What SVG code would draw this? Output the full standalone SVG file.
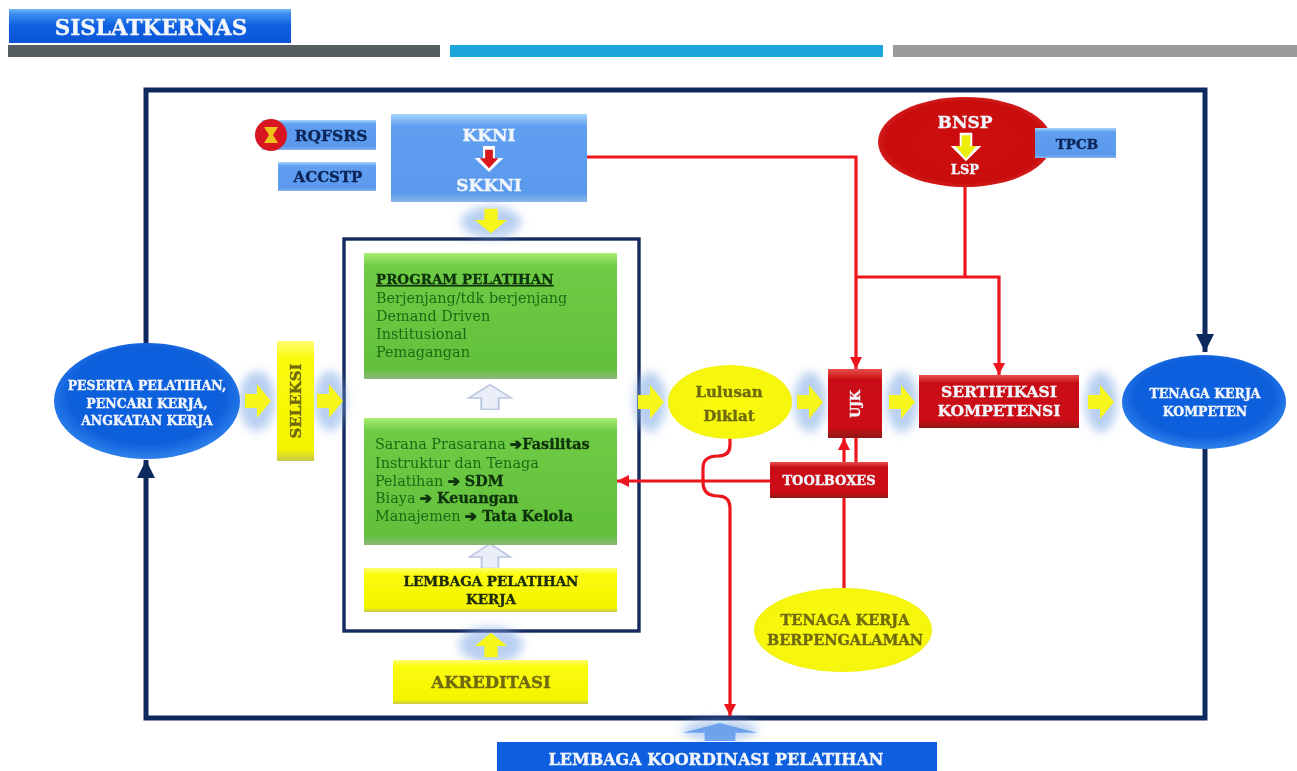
<svg xmlns="http://www.w3.org/2000/svg" width="1297" height="771" viewBox="0 0 1297 771">
<style>
text{font-family:"DejaVu Serif","Liberation Serif",serif;font-weight:bold;text-anchor:middle}
.w{fill:#f2f6fc;stroke:#f2f6fc;stroke-width:.35}
.n{fill:#0b2558;stroke:#0b2558;stroke-width:.35}
.g{fill:#1f6a14;font-weight:normal;text-anchor:start;font-size:14.4px}
.gb{fill:#0c3208;font-weight:bold;stroke:#0c3208;stroke-width:.3}
.y{fill:#6f6a10;stroke:#6f6a10;stroke-width:.35}
.k{fill:#1e2a08;stroke:#1e2a08;stroke-width:.35}
.navy{fill:none;stroke:#10295f;stroke-width:5}
.red{fill:none;stroke:#ec141c;stroke-width:3.2}
.box{fill:none;stroke:#14295f;stroke-width:3.4}
.ya{fill:#f6f61c}
.wa{fill:#e9eef8;stroke:#b9c5df;stroke-width:1.5}
.glow{fill:#7fa9e6;opacity:.55;filter:url(#bl)}
</style>
<defs>
<filter id="soft" x="-2%" y="-2%" width="104%" height="104%"><feGaussianBlur stdDeviation="0.7"/></filter>
<filter id="bl" x="-50%" y="-50%" width="200%" height="200%"><feGaussianBlur stdDeviation="5"/></filter>
<linearGradient id="gb" x1="0" y1="0" x2="0" y2="1"><stop offset="0" stop-color="#6fb9f8"/><stop offset=".14" stop-color="#3d8cf0"/><stop offset=".5" stop-color="#0d5fe0"/><stop offset="1" stop-color="#0a56d6"/></linearGradient>
<linearGradient id="lb" x1="0" y1="0" x2="0" y2="1"><stop offset="0" stop-color="#a6d4fb"/><stop offset=".14" stop-color="#5f9ff0"/><stop offset=".9" stop-color="#5a99ec"/><stop offset="1" stop-color="#8bb4ea"/></linearGradient>
<linearGradient id="gr" x1="0" y1="0" x2="0" y2="1"><stop offset="0" stop-color="#a9ee72"/><stop offset=".1" stop-color="#6fcb45"/><stop offset=".92" stop-color="#62c03c"/><stop offset="1" stop-color="#8ab87a"/></linearGradient>
<linearGradient id="ye" x1="0" y1="0" x2="0" y2="1"><stop offset="0" stop-color="#ffff70"/><stop offset=".15" stop-color="#fbfb0a"/><stop offset=".9" stop-color="#f4f402"/><stop offset="1" stop-color="#c9c94a"/></linearGradient>
<linearGradient id="rd" x1="0" y1="0" x2="0" y2="1"><stop offset="0" stop-color="#e85050"/><stop offset=".15" stop-color="#c90f12"/><stop offset=".85" stop-color="#cb1014"/><stop offset="1" stop-color="#8f1416"/></linearGradient>
<radialGradient id="ebl" cx=".5" cy=".45" r=".6"><stop offset="0" stop-color="#0f62de"/><stop offset=".7" stop-color="#0f5fdc"/><stop offset="1" stop-color="#3a8ef0"/></radialGradient>
<radialGradient id="erd" cx=".5" cy=".5" r=".6"><stop offset="0" stop-color="#cc0a0a"/><stop offset=".75" stop-color="#c90c0c"/><stop offset="1" stop-color="#e24040"/></radialGradient>
<radialGradient id="eye" cx=".5" cy=".5" r=".6"><stop offset="0" stop-color="#fbfb08"/><stop offset=".8" stop-color="#f6f608"/><stop offset="1" stop-color="#d5d530"/></radialGradient>
<path id="arr" d="M-13,-7 H-1 V-17 L13,0 L-1,17 V7 H-13 Z"/>
<marker id="mn" markerUnits="userSpaceOnUse" markerWidth="20" markerHeight="20" refX="18" refY="9" orient="auto"><path d="M0,0 L18,9 L0,18 Z" fill="#10295f"/></marker>
<marker id="mr" markerUnits="userSpaceOnUse" markerWidth="14" markerHeight="14" refX="12" refY="6" orient="auto"><path d="M0,0 L12,6 L0,12 Z" fill="#ec141c"/></marker>
</defs>
<rect width="1297" height="771" fill="#fff"/>
<g filter="url(#soft)">
<g id="header">
<rect x="9" y="9" width="282" height="34" fill="url(#gb)"/>
<text class="w" x="151" y="35" font-size="21.5">SISLATKERNAS</text>
<rect x="8" y="45" width="432" height="12" fill="#555d60"/>
<rect x="450" y="45" width="433" height="12" fill="#1ca5dc"/>
<rect x="893" y="45" width="404" height="12" fill="#999b9c"/>
</g>
<g id="lembaga-frame"><rect class="box" x="344" y="239" width="295" height="392"/></g>
<g id="connectors">
<path class="navy" d="M146,345 V90 H1205 V352" marker-end="url(#mn)"/>
<path class="navy" d="M1205,448 V718 H146 V460" marker-end="url(#mn)"/>
<path class="red" d="M587,157 H856 V369" marker-end="url(#mr)"/>
<path class="red" d="M965,187 V277"/>
<path class="red" d="M856,277 H999 V375" marker-end="url(#mr)"/>
<path class="red" d="M730,438 V445 Q730,456 718,456 Q703,456 703,468 V482 Q703,496 718,496 Q730,496 730,508 V716" marker-end="url(#mr)"/>
<path class="red" d="M770,481 H617" marker-end="url(#mr)"/>
<path class="red" d="M844,590 V498 M844,462 V438" marker-end="url(#mr)"/>
<path class="red" d="M856,462 V438"/>
<ellipse class="glow" cx="257" cy="401" rx="18" ry="30"/>
<use class="ya" href="#arr" transform="translate(258,401)"/>
<ellipse class="glow" cx="330" cy="401" rx="16" ry="30"/>
<use class="ya" href="#arr" transform="translate(330,401)"/>
<ellipse class="glow" cx="491" cy="222" rx="30" ry="16"/>
<use class="ya" href="#arr" transform="translate(491,221) rotate(90) scale(.95)"/>
<ellipse class="glow" cx="650" cy="402" rx="16" ry="30"/>
<use class="ya" href="#arr" transform="translate(651,402)"/>
<ellipse class="glow" cx="810" cy="402" rx="16" ry="30"/>
<use class="ya" href="#arr" transform="translate(810,402)"/>
<ellipse class="glow" cx="902" cy="402" rx="16" ry="30"/>
<use class="ya" href="#arr" transform="translate(902,402)"/>
<ellipse class="glow" cx="1101" cy="402" rx="16" ry="30"/>
<use class="ya" href="#arr" transform="translate(1101,402)"/>
<use class="wa" href="#arr" transform="translate(490,397) rotate(-90) scale(.95,1.25)"/>
<use class="wa" href="#arr" transform="translate(490,556) rotate(-90) scale(.95,1.2)"/>
<ellipse class="glow" cx="491" cy="645" rx="32" ry="18"/>
<use class="ya" href="#arr" transform="translate(491,645) rotate(-90) scale(.95)"/>
<ellipse class="glow" cx="720" cy="730" rx="38" ry="10"/>
<use fill="#5a96ea" opacity=".8" href="#arr" transform="translate(720,732) rotate(-90) scale(.7,2.2)"/>
</g>
<g id="rqfsrs">
<rect x="262" y="120" width="114" height="30" fill="url(#lb)"/>
<circle cx="271" cy="135" r="16" fill="#d81620"/>
<path d="M264,127 H278 L273,135 L278,143 H264 L269,135 Z" fill="#f2c21e"/>
<text class="n" x="331" y="141" font-size="15.5">RQFSRS</text>
</g>
<g id="accstp">
<rect x="278" y="162" width="98" height="29" fill="url(#lb)"/>
<text class="n" x="328" y="182" font-size="15">ACCSTP</text>
</g>
<g id="kkni">
<rect x="391" y="114" width="196" height="88" fill="url(#lb)"/>
<text class="w" x="489" y="141" font-size="17">KKNI</text>
<use href="#arr" fill="#fff" transform="translate(489,159) rotate(90) scale(1,.85)"/>
<use href="#arr" fill="#d8121a" transform="translate(489,159) rotate(90) scale(.72,.55)"/>
<text class="w" x="489" y="191" font-size="17">SKKNI</text>
</g>
<g id="bnsp">
<ellipse cx="965" cy="142" rx="87" ry="45" fill="url(#erd)"/>
<text class="w" x="965" y="128" font-size="17">BNSP</text>
<use href="#arr" fill="#fff" transform="translate(966,147) rotate(90) scale(1.1,.9)"/>
<use href="#arr" fill="#eeee10" transform="translate(966,147) rotate(90) scale(.9,.62)"/>
<text class="w" x="965" y="174" font-size="13">LSP</text>
</g>
<g id="tpcb">
<rect x="1035" y="128" width="81" height="30" fill="url(#lb)"/>
<text class="n" x="1077" y="149" font-size="13.5">TPCB</text>
</g>
<g id="peserta">
<ellipse cx="147" cy="401" rx="93" ry="58" fill="url(#ebl)"/>
<text class="w" font-size="12.5"><tspan x="147" y="390">PESERTA PELATIHAN,</tspan><tspan x="147" y="408">PENCARI KERJA,</tspan><tspan x="147" y="425">ANGKATAN KERJA</tspan></text>
</g>
<g id="seleksi">
<rect x="277" y="341" width="37" height="120" fill="url(#ye)"/>
<text class="y" font-size="15" transform="translate(301,401) rotate(-90)">SELEKSI</text>
</g>
<g id="program">
<rect x="364" y="253" width="253" height="126" fill="url(#gr)"/>
<text class="gb" style="text-anchor:start;text-decoration:underline" x="376" y="284" font-size="13.5">PROGRAM PELATIHAN</text>
<text class="g"><tspan x="376" y="303">Berjenjang/tdk berjenjang</tspan><tspan x="376" y="321">Demand Driven</tspan><tspan x="376" y="339">Institusional</tspan><tspan x="376" y="357">Pemagangan</tspan></text>
</g>
<g id="sarana">
<rect x="364" y="418" width="253" height="127" fill="url(#gr)"/>
<text class="g"><tspan x="375" y="449">Sarana Prasarana </tspan><tspan class="gb">➔Fasilitas</tspan><tspan x="375" y="468">Instruktur dan Tenaga</tspan><tspan x="375" y="486">Pelatihan </tspan><tspan class="gb">➔ SDM</tspan><tspan x="375" y="503">Biaya </tspan><tspan class="gb">➔ Keuangan</tspan><tspan x="375" y="521">Manajemen </tspan><tspan class="gb">➔ Tata Kelola</tspan></text>
</g>
<g id="lpk">
<rect x="364" y="568" width="253" height="44" fill="url(#ye)"/>
<text class="k" font-size="13.5"><tspan x="491" y="586">LEMBAGA PELATIHAN</tspan><tspan x="491" y="604">KERJA</tspan></text>
</g>
<g id="akreditasi">
<rect x="393" y="660" width="195" height="44" fill="url(#ye)"/>
<text class="y" x="491" y="688" font-size="16.5">AKREDITASI</text>
</g>
<g id="lulusan">
<ellipse cx="730" cy="402" rx="62" ry="37" fill="url(#eye)"/>
<text class="y" font-size="15"><tspan x="729" y="397">Lulusan</tspan><tspan x="729" y="421">Diklat</tspan></text>
</g>
<g id="ujk">
<rect x="828" y="369" width="54" height="69" fill="url(#rd)"/>
<text class="w" font-size="12.5" transform="translate(860,404) rotate(-90)">UJK</text>
</g>
<g id="sertifikasi">
<rect x="919" y="375" width="160" height="53" fill="url(#rd)"/>
<text class="w" font-size="15.5"><tspan x="999" y="397">SERTIFIKASI</tspan><tspan x="999" y="416">KOMPETENSI</tspan></text>
</g>
<g id="tenaga-kompeten">
<ellipse cx="1204" cy="402" rx="82" ry="47" fill="url(#ebl)"/>
<text class="w" font-size="12.5"><tspan x="1205" y="398">TENAGA KERJA</tspan><tspan x="1205" y="416">KOMPETEN</tspan></text>
</g>
<g id="toolboxes">
<rect x="770" y="462" width="118" height="36" fill="url(#rd)"/>
<text class="w" x="829" y="485" font-size="13">TOOLBOXES</text>
</g>
<g id="tenaga-berpengalaman">
<ellipse cx="843" cy="630" rx="89" ry="42" fill="url(#eye)"/>
<text class="y" font-size="14.5"><tspan x="845" y="625">TENAGA KERJA</tspan><tspan x="845" y="645">BERPENGALAMAN</tspan></text>
</g>
<g id="koordinasi">
<rect x="497" y="742" width="440" height="29" fill="#0d5fe0"/>
<text class="w" x="716" y="765" font-size="16">LEMBAGA KOORDINASI PELATIHAN</text>
</g>
</g>
</svg>
